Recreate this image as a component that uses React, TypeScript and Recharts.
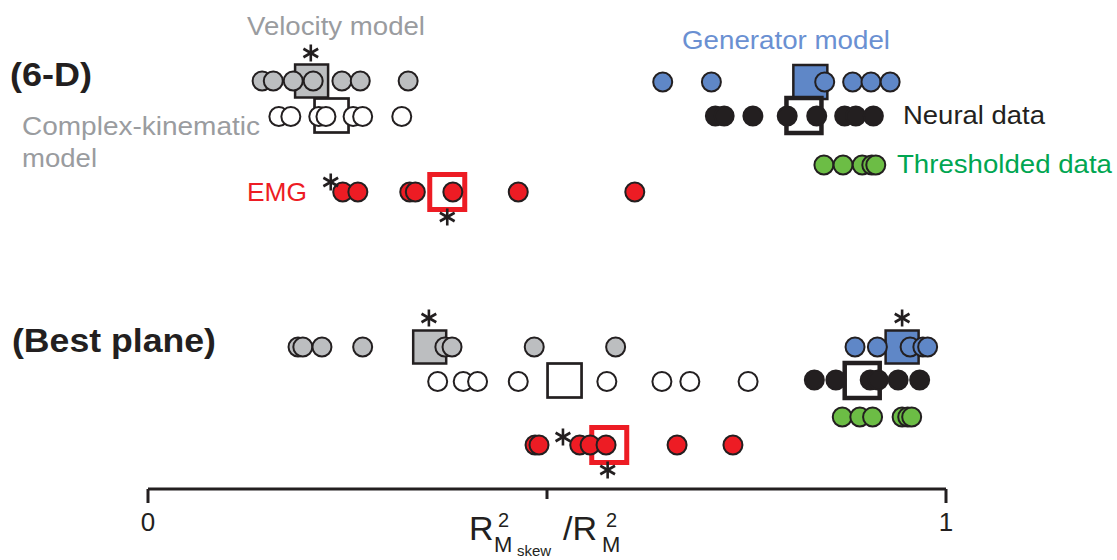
import React from 'react';
import { ScatterChart, Scatter, XAxis, YAxis } from 'recharts';

// ---- x values: R²(M_skew) / R²(M) ----
// 6-D
const velocity6D = [0.143, 0.157, 0.182, 0.207, 0.243, 0.266, 0.326];
const complex6D = [0.164, 0.179, 0.214, 0.223, 0.257, 0.269, 0.318];
const generator6D = [0.645, 0.706, 0.848, 0.883, 0.906, 0.930];
const neural6D = [0.711, 0.722, 0.758, 0.801, 0.838, 0.873, 0.887, 0.909];
const thresholded6D = [0.847, 0.871, 0.895, 0.907, 0.912];
const emg6D = [0.244, 0.263, 0.328, 0.335, 0.382, 0.464, 0.610];
// Best plane
const velocityBP = [0.188, 0.194, 0.218, 0.269, 0.372, 0.381, 0.484, 0.586];
const complexBP = [0.363, 0.395, 0.413, 0.464, 0.575, 0.644, 0.679, 0.752];
const generatorBP = [0.886, 0.914, 0.955, 0.971, 0.977];
const neuralBP = [0.835, 0.862, 0.905, 0.915, 0.940, 0.967];
const thresholdedBP = [0.870, 0.892, 0.908, 0.945, 0.952, 0.957];
const emgBP = [0.485, 0.490, 0.541, 0.554, 0.574, 0.663, 0.733];

// medians (squares)
const medians6D = { velocity: 0.205, complex: 0.230, generator: 0.830, neural: 0.822, emg: 0.375 };
const mediansBP = { velocity: 0.353, complex: 0.522, generator: 0.945, neural: 0.895, emg: 0.578 };

// row lanes (vertical positions on hidden y axis)
const lanes = {
  velocity6D: 8.1, complex6D: 11.65, generator6D: 8.2, neural6D: 11.6, thresholded6D: 16.5, emg6D: 19.2,
  velocityBP: 34.7, complexBP: 38.15, generatorBP: 34.7, neuralBP: 38.0, thresholdedBP: 41.7, emgBP: 44.5,
};

// significance asterisks [x, lane]
const asterisks: [number, number][] = [
  [0.204, 5.3], [0.229, 18.2], [0.375, 21.7],
  [0.352, 31.8], [0.945, 31.8], [0.520, 43.7], [0.576, 47.0],
];

const xTicks = [0, 0.5, 1];

const DARK = '#231f20';
const GREY = '#bcbec0';
const BLUE = '#5f87c7';
const RED = '#ed1c24';
const GREEN = '#6cbd45';
const TEXT_GREY = '#9a9c9f';
const TEXT_BLUE = '#6a90d2';
const TEXT_GREEN = '#00a651';

const pts = (xs: number[], lane: number) => xs.map((x) => ({ x, y: lane }));

const circleShape = (fill: string) => (p: any) => (
  <circle cx={p.cx} cy={p.cy} r={9.5} fill={fill} stroke={DARK} strokeWidth={2} />
);
const squareShape = (fill: string, stroke: string, sw: number, size: number) => (p: any) => (
  <rect x={p.cx - size / 2} y={p.cy - size / 2} width={size} height={size} fill={fill} stroke={stroke} strokeWidth={sw} />
);
const asteriskShape = (p: any) => {
  const r = 8.5;
  const dx = r * Math.cos(Math.PI / 6);
  const dy = r * Math.sin(Math.PI / 6);
  return (
    <g stroke={DARK} strokeWidth={2.6}>
      <line x1={p.cx} y1={p.cy - r} x2={p.cx} y2={p.cy + r} />
      <line x1={p.cx - dx} y1={p.cy - dy} x2={p.cx + dx} y2={p.cy + dy} />
      <line x1={p.cx - dx} y1={p.cy + dy} x2={p.cx + dx} y2={p.cy - dy} />
    </g>
  );
};

const XTick = (props: any) => {
  const { x, y, payload } = props;
  const v = payload.value;
  const len = v === 0.5 ? 10 : 14;
  return (
    <g>
      <line x1={x} y1={y} x2={x} y2={y + len} stroke={DARK} strokeWidth={3} />
      {v !== 0.5 && (
        <text x={x} y={y + 42} textAnchor="middle" fontFamily="'Liberation Sans Narrow', 'Liberation Sans', Arial, sans-serif" fontSize={26} fill={DARK}>
          {String(v)}
        </text>
      )}
    </g>
  );
};

const SANS = "'Liberation Sans', Arial, Helvetica, sans-serif";
const NARROW = "'Liberation Sans Narrow', 'Liberation Sans', Arial, sans-serif";

export default function App() {
  return (
    <div style={{ position: 'absolute', left: 0, top: 0, width: 1117, height: 560, background: '#fff' }}>
      <ScatterChart width={1117} height={560} margin={{ top: 0, right: 171, bottom: 0, left: 148 }}>
        <XAxis
          type="number"
          dataKey="x"
          domain={[0, 1]}
          ticks={xTicks}
          height={71}
          axisLine={{ stroke: DARK, strokeWidth: 3 }}
          tickLine={false}
          tickSize={0}
          tickMargin={0}
          tick={<XTick />}
          interval={0}
        />
        <YAxis type="number" dataKey="y" domain={[0, 48.9]} reversed hide width={0} />

        {/* medians (squares) */}
        <Scatter isAnimationActive={false} data={[{ x: medians6D.velocity, y: lanes.velocity6D }]} shape={squareShape(GREY, DARK, 2.5, 33)} />
        <Scatter isAnimationActive={false} data={[{ x: medians6D.complex, y: lanes.complex6D - 0.1 }]} shape={squareShape('#fff', DARK, 2.7, 34)} />
        <Scatter isAnimationActive={false} data={[{ x: medians6D.generator, y: lanes.generator6D }]} shape={squareShape(BLUE, DARK, 2.5, 34)} />
        <Scatter isAnimationActive={false} data={[{ x: medians6D.neural, y: lanes.neural6D - 0.05 }]} shape={squareShape('#fff', DARK, 4.5, 35)} />
        <Scatter isAnimationActive={false} data={[{ x: medians6D.emg, y: lanes.emg6D }]} shape={squareShape('#fff', RED, 5, 35)} />

        <Scatter isAnimationActive={false} data={[{ x: mediansBP.velocity, y: lanes.velocityBP }]} shape={squareShape(GREY, DARK, 2.5, 33)} />
        <Scatter isAnimationActive={false} data={[{ x: mediansBP.complex, y: lanes.complexBP - 0.1 }]} shape={squareShape('#fff', DARK, 2.7, 34)} />
        <Scatter isAnimationActive={false} data={[{ x: mediansBP.generator, y: lanes.generatorBP }]} shape={squareShape(BLUE, DARK, 2.5, 33)} />
        <Scatter isAnimationActive={false} data={[{ x: mediansBP.neural, y: lanes.neuralBP + 0.05 }]} shape={squareShape('#fff', DARK, 4.5, 35)} />
        <Scatter isAnimationActive={false} data={[{ x: mediansBP.emg, y: lanes.emgBP }]} shape={squareShape('#fff', RED, 5, 35)} />

        {/* individual points */}
        <Scatter isAnimationActive={false} data={pts(velocity6D, lanes.velocity6D)} shape={circleShape(GREY)} />
        <Scatter isAnimationActive={false} data={pts(complex6D, lanes.complex6D)} shape={circleShape('#fff')} />
        <Scatter isAnimationActive={false} data={pts(generator6D, lanes.generator6D)} shape={circleShape(BLUE)} />
        <Scatter isAnimationActive={false} data={pts(neural6D, lanes.neural6D)} shape={circleShape(DARK)} />
        <Scatter isAnimationActive={false} data={pts(thresholded6D, lanes.thresholded6D)} shape={circleShape(GREEN)} />
        <Scatter isAnimationActive={false} data={pts(emg6D, lanes.emg6D)} shape={circleShape(RED)} />

        <Scatter isAnimationActive={false} data={pts(velocityBP, lanes.velocityBP)} shape={circleShape(GREY)} />
        <Scatter isAnimationActive={false} data={pts(complexBP, lanes.complexBP)} shape={circleShape('#fff')} />
        <Scatter isAnimationActive={false} data={pts(generatorBP, lanes.generatorBP)} shape={circleShape(BLUE)} />
        <Scatter isAnimationActive={false} data={pts(neuralBP, lanes.neuralBP)} shape={circleShape(DARK)} />
        <Scatter isAnimationActive={false} data={pts(thresholdedBP, lanes.thresholdedBP)} shape={circleShape(GREEN)} />
        <Scatter isAnimationActive={false} data={pts(emgBP, lanes.emgBP)} shape={circleShape(RED)} />

        {/* asterisks */}
        <Scatter isAnimationActive={false} data={asterisks.map(([x, y]) => ({ x, y }))} shape={asteriskShape} />
      </ScatterChart>

      <svg width={1117} height={560} style={{ position: 'absolute', left: 0, top: 0, pointerEvents: 'none' }}>
        <text x={10} y={86} fontFamily={SANS} fontWeight="bold" fontSize={34} fill={DARK} textLength={82} lengthAdjust="spacingAndGlyphs">(6-D)</text>
        <text x={12} y={352} fontFamily={SANS} fontWeight="bold" fontSize={34} fill={DARK} textLength={204} lengthAdjust="spacingAndGlyphs">(Best plane)</text>

        <text x={247} y={35} fontFamily={SANS} fontSize={25} fill={TEXT_GREY} textLength={178} lengthAdjust="spacingAndGlyphs">Velocity model</text>
        <text x={22} y={135} fontFamily={SANS} fontSize={25} fill={TEXT_GREY} textLength={238} lengthAdjust="spacingAndGlyphs">Complex-kinematic</text>
        <text x={22} y={167} fontFamily={SANS} fontSize={25} fill={TEXT_GREY} textLength={75} lengthAdjust="spacingAndGlyphs">model</text>
        <text x={247} y={201} fontFamily={SANS} fontSize={25} fill={RED} textLength={60} lengthAdjust="spacingAndGlyphs">EMG</text>
        <text x={682} y={49} fontFamily={SANS} fontSize={25} fill={TEXT_BLUE} textLength={208} lengthAdjust="spacingAndGlyphs">Generator model</text>
        <text x={903} y={124} fontFamily={SANS} fontSize={25} fill={DARK} textLength={142} lengthAdjust="spacingAndGlyphs">Neural data</text>
        <text x={897} y={173} fontFamily={SANS} fontSize={25} fill={TEXT_GREEN} textLength={215} lengthAdjust="spacingAndGlyphs">Thresholded data</text>

        {/* axis title: R²_{M_skew} / R²_M */}
        <g fontFamily={NARROW} fill={DARK}>
          <text x={469} y={540} fontSize={34}>R</text>
          <text x={498} y={527} fontSize={20}>2</text>
          <text x={494} y={552} fontSize={22}>M</text>
          <text x={517} y={556} fontSize={15}>skew</text>
          <text x={563} y={540} fontSize={34}>/R</text>
          <text x={606} y={527} fontSize={20}>2</text>
          <text x={602} y={552} fontSize={22}>M</text>
        </g>
      </svg>
    </div>
  );
}
